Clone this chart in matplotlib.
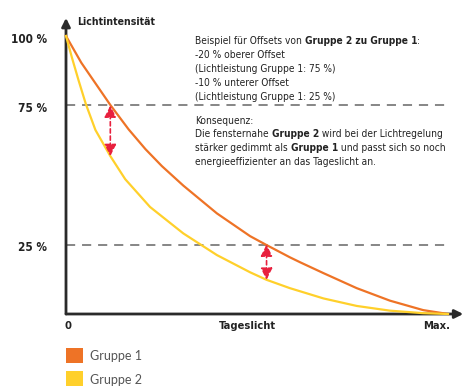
import matplotlib.pyplot as plt
from matplotlib.patches import Rectangle
from matplotlib.transforms import offset_copy

# Tageslicht (0 .. Max = 100) und Lichtintensität in %
tageslicht_g1 = [0, 4, 8, 11.6, 16.4, 20.8, 25.1, 30.7, 39.5, 48.2, 52.5, 58.6, 61.3,
                 67.4, 76.1, 84.8, 93.5, 100]
gruppe1 = [100, 90.4, 82.4, 75.2, 66.4, 59.3, 53.2, 46.2, 36.2, 28.0, 24.8, 20.4, 18.6,
           14.7, 9.3, 4.8, 1.4, 0]

tageslicht_g2 = [0, 1.6, 3.3, 5.2, 7.7, 11.6, 15.5, 22, 30.7, 39.5, 48.2, 52.5, 58.6,
                 67.4, 76.1, 84.8, 93.5, 100]
gruppe2 = [100, 92, 84, 75.5, 66.2, 56.8, 48.5, 38.5, 29, 21.2, 15, 12.3, 9.3,
           5.6, 2.9, 1.2, 0.3, 0]

stufen = [100, 75, 25]
stufen_labels = ["100 %", "75 %", "25 %"]
offset_x = [11.6, 52.5]
offset_oben = [75, 25]
offset_unten = [56.8, 12.3]

ORANGE = "#EE7326"
GELB = "#FFD02B"
ROT = "#E8203E"
TEXT = "#222222"
FONT = dict(family="DejaVu Sans", fontstretch="condensed")

W, H = 463, 387
fig = plt.figure(figsize=(W / 100, H / 100), dpi=100)
ax = fig.add_axes([66 / W, (H - 314) / H, (448 - 66) / W, (314 - 36) / H])
ax.set_xlim(0, 100)
ax.set_ylim(0, 100)
ax.axis("off")

# Achsen mit Pfeilspitzen
for ende in [(0, 106.5), (104, 0)]:
    ax.annotate("", xy=ende, xytext=(0, 0), annotation_clip=False,
                arrowprops=dict(arrowstyle="-|>,head_length=0.5,head_width=0.25",
                                color="#2a2a2a", lw=2, shrinkA=0, shrinkB=0))

# Hilfslinien 75 % und 25 %
for s in stufen[1:]:
    ax.plot([0, 100.5], [s, s], color="#666666", lw=1.1, ls=(0, (6, 4.5)), clip_on=False)

ax.plot(tageslicht_g1, gruppe1, color=ORANGE, lw=1.6, clip_on=False, zorder=3)
ax.plot(tageslicht_g2, gruppe2, color=GELB, lw=1.6, clip_on=False, zorder=3)

# Offset-Pfeile
for x, y0, y1 in zip(offset_x, offset_oben, offset_unten):
    ax.annotate("", xy=(x, y1), xytext=(x, y0),
                arrowprops=dict(arrowstyle="<|-|>,head_length=0.7,head_width=0.35",
                                color=ROT, lw=1.2, ls=(0, (2.5, 1.8)),
                                shrinkA=0, shrinkB=0), zorder=4)

# Beschriftungen
for s, lab in zip(stufen, stufen_labels):
    ax.text(-5, s - 1.2, lab, ha="right", va="center", fontsize=8.5,
            fontweight="bold", color=TEXT, **FONT)
ax.text(2.9, 105, "Lichtintensität", ha="left", va="center", fontsize=7.6,
        fontweight="bold", color=TEXT, **FONT)
ax.text(-0.3, -4.3, "0", ha="left", va="center", fontsize=8,
        fontweight="bold", color=TEXT, **FONT)
ax.text(47.4, -4.3, "Tageslicht", ha="center", va="center", fontsize=8,
        fontweight="bold", color=TEXT, **FONT)
ax.text(100.6, -4.3, "Max.", ha="right", va="center", fontsize=8,
        fontweight="bold", color=TEXT, **FONT)

renderer = fig.canvas.get_renderer()


def rich_line(x, y, parts):
    dx = 0
    for s, bold in parts:
        tr = offset_copy(ax.transData, fig=fig, x=dx, y=0, units="dots")
        t = ax.text(x, y, s, transform=tr, ha="left", va="baseline", fontsize=7.25,
                    fontweight="bold" if bold else "normal", color=TEXT, **FONT)
        dx += t.get_window_extent(renderer).width


zeilen = [
    [("Beispiel für Offsets von ", False), ("Gruppe 2 zu Gruppe 1", True), (":", False)],
    [("-20 % oberer Offset", False)],
    [("(Lichtleistung Gruppe 1: 75 %)", False)],
    [("-10 % unterer Offset", False)],
    [("(Lichtleistung Gruppe 1: 25 %)", False)],
    [("Konsequenz:", False)],
    [("Die fensternahe ", False), ("Gruppe 2", True), (" wird bei der Lichtregelung", False)],
    [("stärker gedimmt als ", False), ("Gruppe 1", True), (" und passt sich so noch", False)],
    [("energieeffizienter an das Tageslicht an.", False)],
]
zeilen_y = [44.5, 58.5, 72.5, 86.5, 100.5, 123.5, 137.5, 151.5, 165.5]
for parts, py in zip(zeilen, zeilen_y):
    rich_line(33.8, (314 - py) / 2.78, parts)

# Legende
for name, farbe, y0 in [("Gruppe 1", ORANGE, 348), ("Gruppe 2", GELB, 371)]:
    fig.add_artist(Rectangle((66 / W, 1 - (y0 + 15) / H), 17 / W, 15 / H,
                             transform=fig.transFigure, color=farbe, lw=0))
    fig.text(90 / W, 1 - (y0 + 8.5) / H, name, ha="left", va="center",
             fontsize=9, family="Lato", color="#555555")

fig.savefig("out.png", dpi=100)
